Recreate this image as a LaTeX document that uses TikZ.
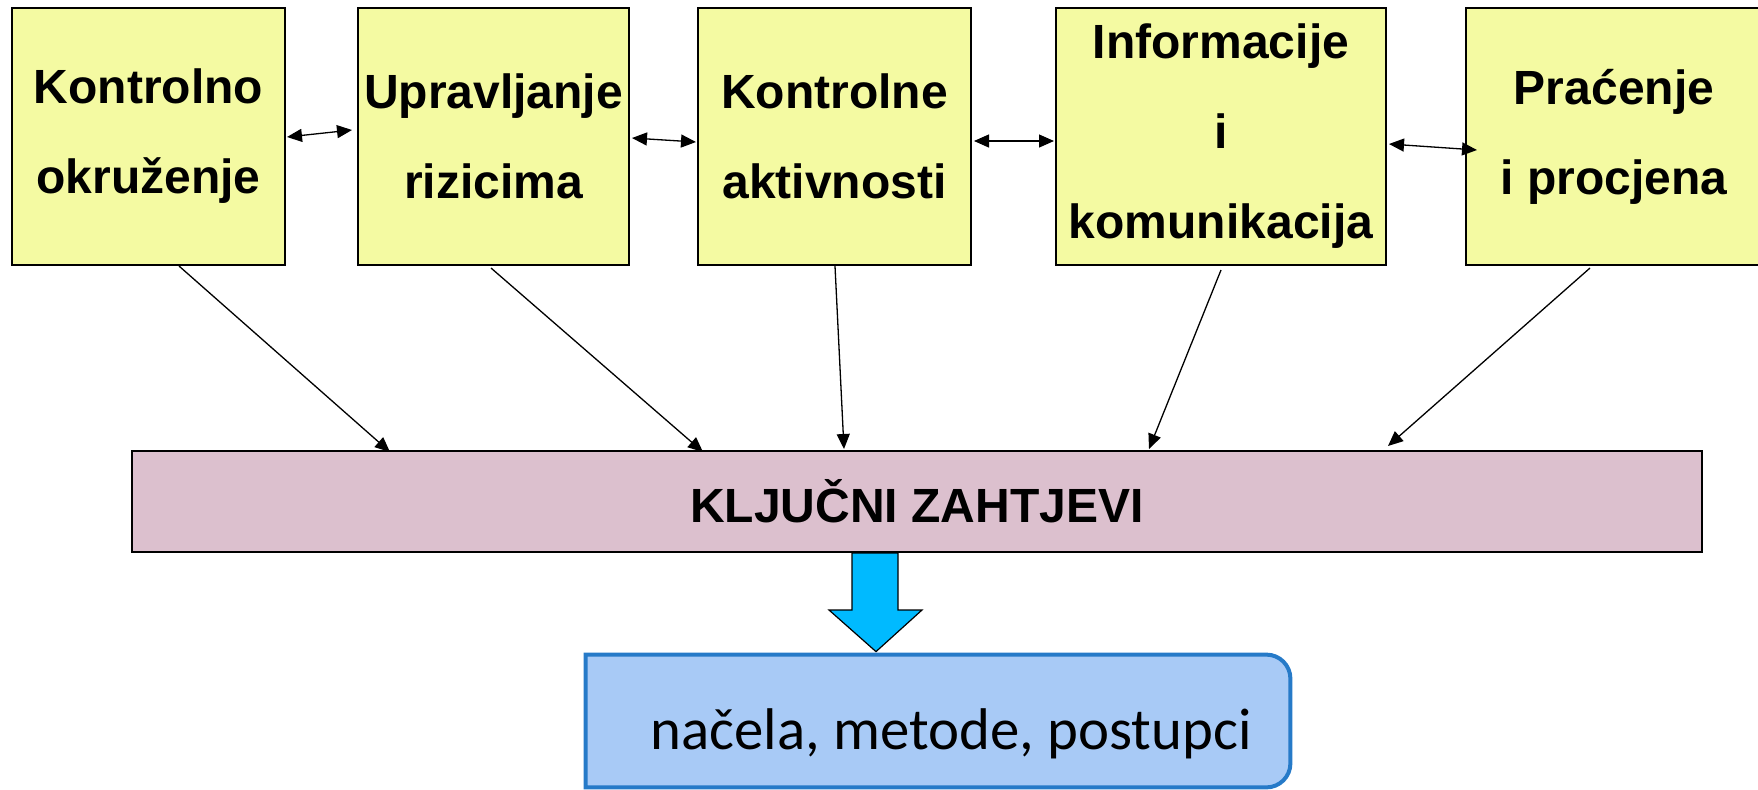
\documentclass[tikz,border=0pt]{standalone}
\usepackage{fontspec}
\setmainfont{Liberation Sans}
\newfontfamily\calibrifont{Carlito}
\usetikzlibrary{arrows.meta,calc,backgrounds}
\usepackage{xcolor}
\definecolor{boxyellow}{RGB}{244,250,162}
\definecolor{boxpink}{RGB}{220,192,206}
\definecolor{arrowblue}{RGB}{0,186,255}
\definecolor{rulesfill}{RGB}{168,202,246}
\definecolor{rulesline}{RGB}{38,122,200}

\begin{document}
\begin{tikzpicture}[x=0.5pt,y=-0.5pt,
	comp/.style={draw=black,line width=1pt,fill=boxyellow,minimum height=128.5pt,inner sep=0pt,align=center,font=\fontsize{24}{45}\selectfont\bfseries},
	link/.style={line width=0.65pt,{Triangle[length=7.5pt,width=6.5pt]}-{Triangle[length=7.5pt,width=6.5pt]}},
	feed/.style={line width=0.65pt,-{Triangle[length=7.5pt,width=6.5pt]}}]
\useasboundingbox(0,0)rectangle(1758,789);
\node[comp,minimum width=136.5pt](env)at(148.5,136.5){Kontrolno\\okruženje};
\node[comp,minimum width=135.5pt](risk)at(493.5,136.5){Upravljanje\\rizicima};
\node[comp,minimum width=136.5pt](ctrl)at(834.5,136.5){Kontrolne\\aktivnosti};
\node[comp,minimum width=165pt](info)at(1221,136.5){Informacije\\i\\komunikacija};
\node[comp,minimum width=148pt](mon)at(1614,136.5){Praćenje\\i procjena};
\node[draw=black,line width=1pt,fill=boxpink,minimum width=785pt,minimum height=50.5pt,inner sep=0pt,font=\fontsize{24}{28}\selectfont\bfseries](keyreq)at(917,501.5){KLJUČNI ZAHTJEVI};
\node[minimum width=352pt,minimum height=66pt,inner sep=0pt](rules)at(938,721){};
\node[anchor=base,inner sep=0pt,font=\calibrifont\fontsize{29.4}{35}\selectfont](rulestxt)at($(rules.south)+(13,-38)$){načela, metode, postupci};
\begin{scope}[on background layer]
\draw[draw=rulesline,line width=2pt,fill=rulesfill](rules.north west)[rounded corners=12pt]--(rules.north east)--(rules.south east)[sharp corners]--(rules.south west)--cycle;
\end{scope}
% veze izmedju komponenti
\draw[link]($(env.east)+(1,0.5)$)--($(risk.west)+(-5,-6.5)$);
\draw[link]($(risk.east)+(2,1.5)$)--($(ctrl.west)+(-1,5.5)$);
\draw[link]($(ctrl.east)+(2,4.5)$)--($(info.west)+(-1,4.5)$);
\draw[link]($(info.east)+(2,7.5)$)--($(mon.west)+(12,13.5)$);
% prema kljucnim zahtjevima
\draw[feed]($(env.south)+(30.5,0)$)--($(keyreq.north)+(-527,2)$);
\draw[feed]($(risk.south)+(-2.5,2)$)--($(keyreq.north)+(-214,2)$);
\draw[feed]($(ctrl.south)+(0.5,0)$)--($(keyreq.north)+(-73,-1)$);
\draw[feed]($(info.south)+(0,4)$)--($(keyreq.north)+(232,-1)$);
\draw[feed]($(mon.south)+(-24,2)$)--($(keyreq.north)+(471,-4)$);
% velika strelica
\draw[fill=arrowblue,line width=0.6pt]($(keyreq.south)+(-65,0)$)--++(0,57)--++(-23,0)--($(rules.north)+(-62,-3)$)--($(keyreq.south)+(5,57)$)--++(-24,0)--++(0,-57)--cycle;
\end{tikzpicture}
\end{document}
